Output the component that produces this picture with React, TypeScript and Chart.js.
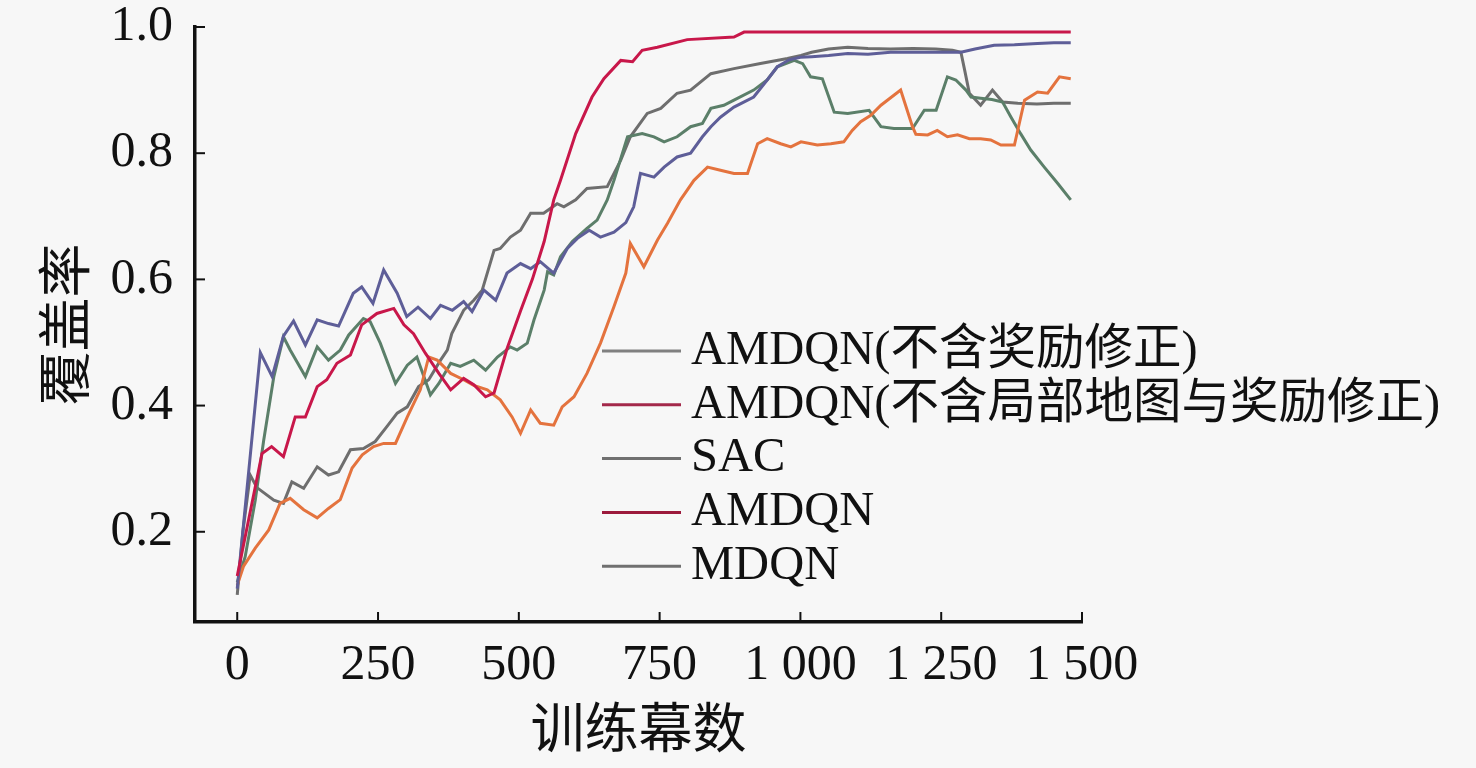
import React, { useEffect, useRef } from "react";
import { Chart, registerables } from "chart.js";

Chart.register(...registerables);

// ---------- data ----------
const seriesLabels = [
  "AMDQN(不含奖励修正)",
  "AMDQN(不含局部地图与奖励修正)",
  "SAC",
  "AMDQN",
  "MDQN",
];

const noRewardX = [0, 41, 62, 82, 100, 121, 142, 162, 180, 206, 221, 241, 260, 284, 301, 321, 343, 361, 382, 402, 417, 438, 459, 479, 503, 521, 538, 562, 586, 604, 625, 645, 669, 690, 704, 716, 740, 758, 781, 805, 826, 841, 858, 882, 917, 941, 959, 980, 1000, 1020, 1050, 1084, 1120, 1160, 1200, 1240, 1285, 1310, 1344, 1380, 1421, 1450, 1480];
const noRewardY = [0.11, 0.484, 0.446, 0.51, 0.534, 0.496, 0.536, 0.53, 0.526, 0.578, 0.588, 0.562, 0.615, 0.578, 0.541, 0.556, 0.538, 0.559, 0.551, 0.565, 0.549, 0.583, 0.567, 0.61, 0.625, 0.617, 0.628, 0.61, 0.649, 0.665, 0.678, 0.667, 0.675, 0.69, 0.715, 0.768, 0.762, 0.778, 0.794, 0.8, 0.826, 0.842, 0.857, 0.873, 0.889, 0.916, 0.937, 0.948, 0.952, 0.953, 0.955, 0.958, 0.957, 0.96, 0.96, 0.96, 0.96, 0.965, 0.971, 0.972, 0.974, 0.975, 0.975];

const noMapX = [0, 11, 32, 56, 76, 94, 118, 142, 162, 183, 204, 222, 242, 260, 281, 302, 325, 340, 355, 379, 402, 420, 444, 467, 488, 503, 521, 538, 562, 577, 598, 621, 645, 669, 690, 698, 722, 746, 764, 787, 811, 835, 858, 882, 906, 924, 941, 965, 983, 1001, 1030, 1054, 1077, 1092, 1107, 1125, 1143, 1178, 1199, 1205, 1226, 1243, 1261, 1279, 1300, 1320, 1338, 1356, 1380, 1398, 1421, 1439, 1460, 1480];
const noMapY = [0.115, 0.145, 0.174, 0.203, 0.245, 0.253, 0.235, 0.222, 0.237, 0.251, 0.301, 0.322, 0.335, 0.34, 0.34, 0.382, 0.425, 0.477, 0.472, 0.451, 0.441, 0.432, 0.425, 0.409, 0.382, 0.356, 0.393, 0.372, 0.369, 0.398, 0.414, 0.451, 0.499, 0.557, 0.61, 0.657, 0.62, 0.662, 0.689, 0.726, 0.757, 0.778, 0.773, 0.768, 0.768, 0.815, 0.823, 0.815, 0.81, 0.818, 0.813, 0.815, 0.818, 0.836, 0.85, 0.86, 0.876, 0.9, 0.842, 0.83, 0.829, 0.836, 0.826, 0.829, 0.823, 0.823, 0.821, 0.813, 0.813, 0.884, 0.897, 0.895, 0.921, 0.918];

const sacX = [0, 14, 32, 47, 65, 82, 94, 121, 142, 162, 183, 198, 224, 236, 254, 281, 302, 319, 343, 358, 379, 396, 420, 441, 462, 485, 497, 515, 527, 545, 551, 562, 574, 595, 621, 639, 657, 669, 693, 719, 740, 758, 781, 805, 826, 841, 864, 882, 917, 941, 959, 989, 1004, 1018, 1039, 1060, 1084, 1122, 1143, 1166, 1199, 1220, 1241, 1261, 1276, 1294, 1303, 1320, 1340, 1359, 1374, 1391, 1409, 1433, 1457, 1480];
const sacY = [0.12, 0.16, 0.25, 0.345, 0.446, 0.509, 0.488, 0.446, 0.493, 0.472, 0.488, 0.512, 0.538, 0.533, 0.499, 0.435, 0.464, 0.477, 0.417, 0.435, 0.467, 0.462, 0.472, 0.456, 0.477, 0.493, 0.488, 0.499, 0.536, 0.583, 0.612, 0.607, 0.636, 0.66, 0.681, 0.694, 0.726, 0.757, 0.826, 0.831, 0.826, 0.818, 0.826, 0.842, 0.847, 0.871, 0.876, 0.884, 0.9, 0.916, 0.937, 0.947, 0.942, 0.921, 0.918, 0.865, 0.863, 0.868, 0.842, 0.839, 0.839, 0.868, 0.868, 0.921, 0.916, 0.9, 0.889, 0.887, 0.885, 0.881, 0.857, 0.831, 0.805, 0.778, 0.752, 0.726];

const amdqnX = [0, 44, 61, 82, 103, 121, 142, 159, 177, 201, 221, 248, 278, 296, 313, 334, 358, 379, 402, 420, 441, 456, 479, 503, 524, 545, 562, 574, 601, 630, 651, 681, 702, 719, 746, 799, 882, 900, 1480];
const amdqnY = [0.13, 0.324, 0.335, 0.319, 0.382, 0.382, 0.43, 0.441, 0.467, 0.48, 0.528, 0.546, 0.554, 0.528, 0.514, 0.483, 0.451, 0.425, 0.443, 0.433, 0.414, 0.42, 0.49, 0.55, 0.6, 0.66, 0.726, 0.757, 0.831, 0.889, 0.918, 0.947, 0.945, 0.963, 0.968, 0.98, 0.984, 0.992, 0.992];

const mdqnX = [0, 10, 23, 35, 65, 82, 97, 118, 142, 162, 180, 201, 224, 245, 266, 284, 302, 322, 340, 361, 373, 381, 402, 420, 435, 456, 467, 485, 503, 521, 544, 568, 580, 601, 621, 657, 681, 698, 728, 752, 781, 805, 841, 882, 929, 977, 1001, 1020, 1050, 1084, 1120, 1160, 1200, 1240, 1270, 1285, 1292, 1300, 1320, 1341, 1359, 1386, 1420, 1450, 1480];
const mdqnY = [0.1, 0.2, 0.29, 0.27, 0.25, 0.245, 0.279, 0.269, 0.303, 0.29, 0.295, 0.33, 0.332, 0.343, 0.367, 0.388, 0.398, 0.43, 0.441, 0.472, 0.488, 0.514, 0.551, 0.567, 0.583, 0.646, 0.649, 0.667, 0.678, 0.705, 0.705, 0.72, 0.715, 0.726, 0.744, 0.747, 0.789, 0.826, 0.863, 0.871, 0.895, 0.9, 0.926, 0.934, 0.942, 0.95, 0.955, 0.96, 0.965, 0.968, 0.966, 0.965, 0.966, 0.965, 0.963, 0.96, 0.93, 0.895, 0.876, 0.9, 0.881, 0.879, 0.878, 0.879, 0.879];

const lineColors = ["#5e5e98", "#e4733e", "#5b7f69", "#c8174a", "#6e6e6e"];
const legendColors = ["#808080", "#a3284a", "#707070", "#9c1a3c", "#707070"];

const xTickValues = [0, 250, 500, 750, 1000, 1250, 1500];
const xTickLabels = ["0", "250", "500", "750", "1 000", "1 250", "1 500"];
const yTickValues = [0.2, 0.4, 0.6, 0.8, 1.0];
const yTickLabels = ["0.2", "0.4", "0.6", "0.8", "1.0"];

const xTitle = "训练幕数";
const yTitle = "覆盖率";

// ---------- styling ----------
const FONT = "'Liberation Serif', 'Times New Roman', 'Noto Sans CJK SC', serif";
const BG = "#f7f7f7";

const toPoints = (xs: number[], ys: number[]) => xs.map((x, i) => ({ x, y: ys[i] }));

const seriesData = [
  toPoints(noRewardX, noRewardY),
  toPoints(noMapX, noMapY),
  toPoints(sacX, sacY),
  toPoints(amdqnX, amdqnY),
  toPoints(mdqnX, mdqnY),
];

const inwardTicks = {
  id: "inwardTicks",
  afterDraw(chart: any) {
    const { ctx, chartArea, scales } = chart;
    ctx.save();
    ctx.strokeStyle = "#111";
    ctx.lineWidth = 2;
    const len = 10;
    scales.x.ticks.forEach((t: any) => {
      const px = scales.x.getPixelForValue(t.value);
      ctx.beginPath();
      ctx.moveTo(px, chartArea.bottom);
      ctx.lineTo(px, chartArea.bottom - len);
      ctx.stroke();
    });
    scales.y.ticks.forEach((t: any) => {
      const py = scales.y.getPixelForValue(t.value);
      ctx.beginPath();
      ctx.moveTo(chartArea.left, py);
      ctx.lineTo(chartArea.left + len, py);
      ctx.stroke();
    });
    ctx.restore();
  },
};

const customLegend = {
  id: "customLegend",
  afterDraw(chart: any) {
    const { ctx } = chart;
    const lineStart = 602;
    const lineEnd = 681;
    const textX = 691;
    const top = 351;
    const step = 53.8;
    ctx.save();
    ctx.font = `48.5px ${FONT}`;
    ctx.textAlign = "left";
    ctx.textBaseline = "middle";
    chart.data.datasets.forEach((ds: any, i: number) => {
      const y = top + i * step;
      ctx.strokeStyle = legendColors[i];
      ctx.lineWidth = 3;
      ctx.beginPath();
      ctx.moveTo(lineStart, y);
      ctx.lineTo(lineEnd, y);
      ctx.stroke();
      ctx.fillStyle = "#111";
      ctx.fillText(ds.label, textX, y);
    });
    ctx.restore();
  },
};

export default function App() {
  const ref = useRef<HTMLCanvasElement>(null);

  useEffect(() => {
    document.body.style.margin = "0";
    document.body.style.background = BG;
    const canvas = ref.current;
    if (!canvas) return;

    const chart = new Chart(canvas, {
      type: "line",
      data: {
        datasets: seriesLabels.map((label, i) => ({
          label,
          data: seriesData[i],
          borderColor: lineColors[i],
          backgroundColor: lineColors[i],
          borderWidth: 3,
          pointRadius: 0,
          tension: 0,
          fill: false,
          order: label === "AMDQN" ? 0 : 1,
        })),
      },
      options: {
        animation: false,
        responsive: false,
        devicePixelRatio: 1,
        layout: { padding: { left: 0, top: 27, right: 394, bottom: 0 } },
        plugins: {
          legend: { display: false },
          tooltip: { enabled: false },
        },
        scales: {
          x: {
            type: "linear",
            min: -75,
            max: 1500,
            grid: { display: false, drawTicks: false },
            border: { display: true, color: "#111", width: 3.5 },
            afterBuildTicks: (scale: any) => {
              scale.ticks = xTickValues.map((v) => ({ value: v }));
            },
            afterFit: (scale: any) => {
              scale.height = 146;
            },
            ticks: {
              padding: 14,
              color: "#111",
              font: { family: FONT, size: 50, lineHeight: 1.2 },
              maxRotation: 0,
              autoSkip: false,
              callback: (_v: any, i: number) => xTickLabels[i],
            },
            title: {
              display: true,
              text: xTitle,
              color: "#111",
              font: { family: FONT, size: 54, lineHeight: 1.2 },
              padding: { top: 0, bottom: 2 },
            },
          },
          y: {
            type: "linear",
            min: 0.057,
            max: 1.0,
            grid: { display: false, drawTicks: true, tickLength: 22 },
            border: { display: true, color: "#111", width: 3.5 },
            afterBuildTicks: (scale: any) => {
              scale.ticks = yTickValues.map((v) => ({ value: v }));
            },
            afterFit: (scale: any) => {
              scale.width = 195;
            },
            ticks: {
              padding: 0,
              color: "#111",
              font: { family: FONT, size: 50, lineHeight: 1 },
              autoSkip: false,
              callback: (_v: any, i: number) => yTickLabels[i],
            },
            title: {
              display: true,
              text: yTitle,
              color: "#111",
              font: { family: FONT, size: 54, lineHeight: 1.2 },
              padding: { top: 38, bottom: 0 },
            },
          },
        },
      },
      plugins: [inwardTicks, customLegend],
    });

    return () => chart.destroy();
  }, []);

  return (
    <div style={{ width: 1476, height: 768, background: BG }}>
      <canvas ref={ref} width={1476} height={768} style={{ display: "block" }} />
    </div>
  );
}
